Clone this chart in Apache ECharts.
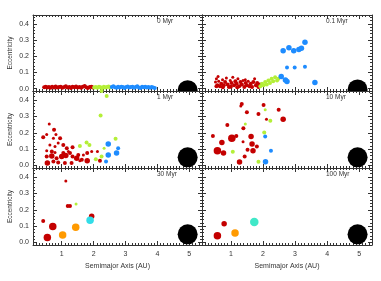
<!DOCTYPE html>
<html><head><meta charset="utf-8">
<script src="https://cdn.jsdelivr.net/npm/echarts@6/dist/echarts.min.js"></script>
<style>html,body{margin:0;padding:0;background:#fff}#c{width:381px;height:281px}</style>
</head><body><div id="c"></div>
<script>
// ---- tick labels / titles ----
const xTicks = [1, 2, 3, 4, 5];
const yTicks = [0.0, 0.1, 0.2, 0.3, 0.4];
const panelTitles = ['0 Myr', '0.1 Myr', '1 Myr', '10 Myr', '30 Myr', '100 Myr'];
const xTitle = 'Semimajor Axis (AU)';
const yTitle = 'Eccentricity';

// ---- data: [semimajor axis, eccentricity, mass class] ----
// 0 Myr
const p0Red = [[0.45,0.008,2],[0.50,0.012,2],[0.55,0.006,2],[0.60,0.010,2],[0.65,0.005,2],[0.70,0.011,2],[0.76,0.007,2],[0.81,0.013,2],[0.86,0.006,2],[0.92,0.009,2],[0.97,0.012,2],[1.02,0.005,2],[1.08,0.010,2],[1.13,0.014,2],[1.18,0.007,2],[1.24,0.009,2],[1.29,0.004,2],[1.34,0.011,2],[1.40,0.008,2],[1.45,0.013,2],[1.50,0.006,2],[1.56,0.010,2],[1.61,0.005,2],[1.66,0.012,2],[1.72,0.016,2],[1.77,0.008,2],[1.82,0.004,2],[1.88,0.009,2],[1.93,0.012,2],[1.98,0.006,2]];
const p0Green = [[2.02,0.007,2],[2.07,0.010,2],[2.12,0.005,2],[2.17,0.012,2],[2.22,0.008,2],[2.27,0.004,2],[2.32,0.011,2],[2.37,0.007,2],[2.42,0.009,2],[2.47,0.013,2],[2.52,0.006,2]];
const p0Blue = [[2.57,0.010,2],[2.62,0.014,2],[2.67,0.008,2],[2.72,0.005,2],[2.77,0.011,2],[2.82,0.007,2],[2.87,0.012,2],[2.92,0.009,2],[2.97,0.004,2],[3.02,0.010,2],[3.07,0.013,2],[3.12,0.006,2],[3.17,0.009,2],[3.22,0.012,2],[3.27,0.005,2],[3.32,0.010,2],[3.37,0.014,2],[3.42,0.007,2],[3.47,0.004,2],[3.52,0.011,2],[3.57,0.008,2],[3.62,0.012,2],[3.67,0.006,2],[3.72,0.009,2],[3.77,0.005,2],[3.82,0.010,2],[3.87,0.007,2],[3.92,0.004,2]];
// 0.1 Myr
const p1Red = [[0.52,0.04,1],[0.55,0.06,1],[0.58,0.02,2],[0.62,0.045,1],[0.66,0.015,2],[0.70,0.03,2],[0.74,0.055,1],[0.78,0.02,2],[0.82,0.04,2],[0.86,0.065,1],[0.90,0.025,2],[0.94,0.01,2],[0.98,0.05,1],[1.02,0.035,2],[1.06,0.07,1],[1.10,0.02,2],[1.14,0.045,2],[1.18,0.03,2],[1.22,0.06,1],[1.26,0.015,2],[1.30,0.04,2],[1.34,0.025,2],[1.38,0.05,1],[1.42,0.01,2],[1.46,0.035,2],[1.50,0.02,2],[1.54,0.045,1],[1.58,0.015,2],[1.62,0.03,2],[1.66,0.01,2],[1.70,0.04,2],[1.74,0.06,1],[1.78,0.02,2],[1.82,0.035,2],[1.86,0.01,2],[1.90,0.025,2],[0.60,0.075,1],[0.55,0.015,2],[0.75,0.008,2],[1.00,0.012,2],[1.20,0.008,2],[1.45,0.055,1]];
const p1Green = [[1.92,0.015,2],[1.97,0.03,2],[2.02,0.02,2],[2.07,0.04,2],[2.12,0.025,2],[2.17,0.05,2],[2.22,0.035,2],[2.27,0.06,2],[2.32,0.045,2],[2.38,0.07,2],[2.44,0.05,2],[2.48,0.06,2]];
const p1Blue = [[2.63,0.234,3],[2.81,0.252,3],[2.96,0.234,3],[3.12,0.242,3],[3.20,0.249,3],[3.31,0.287,3],[2.75,0.13,2],[2.99,0.13,2],[3.31,0.135,2],[2.57,0.074,3],[2.70,0.053,3],[2.75,0.043,3],[3.62,0.037,3]];
// 1 Myr
const p2Red = [[0.61,0.254,1],[0.42,0.173,2],[0.53,0.19,1],[0.76,0.218,2],[0.82,0.19,1],[0.74,0.167,1],[0.95,0.167,2],[1.05,0.126,2],[0.89,0.137,1],[1.16,0.106,2],[1.34,0.112,2],[0.53,0.09,1],[0.69,0.085,2],[0.79,0.079,1],[1.05,0.076,2],[1.21,0.085,1],[0.53,0.055,2],[0.69,0.059,3],[0.84,0.045,2],[1.00,0.055,3],[1.13,0.061,3],[1.34,0.055,2],[1.47,0.045,3],[1.63,0.035,2],[1.80,0.03,3],[1.80,0.076,2],[1.94,0.085,1],[2.12,0.085,1],[2.20,0.03,2],[0.55,0.015,3],[0.74,0.024,2],[0.89,0.018,2],[1.10,0.015,2],[1.31,0.015,2],[1.57,0.03,1],[0.79,0.116,1],[0.63,0.126,1],[1.26,0.076,2],[1.52,0.065,2],[1.68,0.065,1]];
const p2Green = [[2.41,0.425,2],[2.25,0.455,2],[2.22,0.305,2],[2.69,0.163,2],[1.78,0.14,2],[1.57,0.12,2],[1.87,0.126,2],[2.07,0.039,2],[2.25,0.055,2],[2.33,0.106,1]];
const p2Blue = [[2.46,0.132,3],[2.46,0.065,3],[2.39,0.024,2],[2.72,0.076,3],[2.77,0.106,2]];
// 10 Myr
const p3Red = [[1.34,0.376,2],[1.31,0.364,1],[2.02,0.37,2],[2.49,0.34,2],[1.50,0.326,2],[1.86,0.315,2],[2.63,0.283,3],[2.11,0.283,1],[0.89,0.248,2],[1.39,0.228,2],[0.44,0.181,2],[1.03,0.167,4],[1.17,0.181,2],[1.63,0.177,3],[0.72,0.14,3],[1.38,0.145,1],[1.66,0.132,3],[1.81,0.116,2],[0.58,0.091,4],[0.77,0.076,3],[1.52,0.096,2],[1.69,0.091,3],[1.43,0.055,2],[1.27,0.021,3]];
const p3Green = [[2.07,0.34,1],[2.23,0.274,2],[1.45,0.254,1],[2.04,0.201,2],[1.06,0.084,2],[1.86,0.023,2]];
const p3Blue = [[2.07,0.177,2],[2.25,0.09,2],[2.08,0.023,3]];
// 30 Myr
const p4Red = [[1.13,0.375,1],[1.19,0.223,2],[1.26,0.223,2],[0.42,0.131,2],[1.94,0.16,3],[0.72,0.098,4],[0.55,0.031,4]];
const p4Green = [[1.45,0.236,1]];
const p4Orange = [[1.44,0.094,4],[1.03,0.046,4]];
const p4Cyan = [[1.89,0.136,4]];
// 100 Myr
const p5Red = [[0.79,0.115,3],[0.58,0.042,4]];
const p5Orange = [[1.13,0.059,4]];
const p5Cyan = [[1.73,0.125,5]];
// Jupiter per panel
const jupiter = [[4.95,-0.01],[4.95,-0.005],[4.95,0.05],[4.95,0.05],[4.95,0.05],[4.95,0.05]];

// ---- styling ----
const RED='#c40000', GREEN='#b4ef38', BLUE='#1e8cff', ORANGE='#ff9a00', CYAN='#33dde8', TURQ='#40e8c8';
const FRAME='#333', TXT='#333', FONT='Liberation Sans, Arial, sans-serif';
const sizeOf = {1:3, 2:4, 3:5.5, 4:7.5, 5:8.5};
const X_MIN=0.1, X_MAX=5.4, Y_MIN=-0.015, Y_MAX=0.455;
const colLeft=[33,202], colW=[169,170], rowTop=[15,91,168], rowH=[76,77,77];

const xMinor=[]; for(let i=2;i<=53;i++){ if(i%10) xMinor.push(i/10); }
const yMinor=[]; for(let i=1;i<=22;i++){ if(i%5) yMinor.push(Math.round(i*2)/100); }

const panels = [
  [[p0Red,RED],[p0Green,GREEN],[p0Blue,BLUE]],
  [[p1Red,RED],[p1Green,GREEN],[p1Blue,BLUE]],
  [[p2Red,RED],[p2Green,GREEN],[p2Blue,BLUE]],
  [[p3Red,RED],[p3Green,GREEN],[p3Blue,BLUE]],
  [[p4Red,RED],[p4Green,GREEN],[p4Orange,ORANGE],[p4Cyan,CYAN]],
  [[p5Red,RED],[p5Orange,ORANGE],[p5Cyan,TURQ]]
];

const grid=[], xAxis=[], yAxis=[], series=[], graphic=[];
for(let g=0; g<6; g++){
  const row=Math.floor(g/2), col=g%2;
  grid.push({left:colLeft[col], top:rowTop[row], width:colW[col], height:rowH[row], containLabel:false});
  const base = {gridIndex:g, type:'value', splitLine:{show:false}, axisLine:{show:true, onZero:false, lineStyle:{color:FRAME,width:1}}};
  const xi = xAxis.length;
  ['bottom','top'].forEach(pos=>{
    xAxis.push(Object.assign({}, base, {min:X_MIN,max:X_MAX,position:pos,
      axisTick:{show:true,inside:true,length:4,customValues:xTicks,lineStyle:{color:FRAME}},
      axisLabel:{show: pos==='bottom' && row===2, customValues:xTicks, margin:6, fontSize:7, color:TXT, fontFamily:FONT, formatter:v=>String(Math.round(v))},
      name: (pos==='bottom' && row===2) ? xTitle : '', nameLocation:'middle', nameGap:18,
      nameTextStyle:{fontSize:7, color:TXT, fontFamily:FONT}}));
    xAxis.push(Object.assign({}, base, {min:X_MIN,max:X_MAX,position:pos, axisLine:{show:false,onZero:false},
      axisTick:{show:true,inside:true,length:2,customValues:xMinor,lineStyle:{color:FRAME}}, axisLabel:{show:false}}));
  });
  const yi = yAxis.length;
  ['left','right'].forEach(pos=>{
    yAxis.push(Object.assign({}, base, {min:Y_MIN,max:Y_MAX,position:pos,
      axisTick:{show:true,inside:true,length:4,customValues:yTicks,lineStyle:{color:FRAME}},
      axisLabel:{show: pos==='left' && col===0, customValues:yTicks, margin:4, fontSize:7, color:TXT, fontFamily:FONT, formatter:v=>v.toFixed(1)},
      name: (pos==='left' && col===0) ? yTitle : '', nameLocation:'middle', nameGap:19, nameRotate:90,
      nameTextStyle:{fontSize:6.5, color:TXT, fontFamily:FONT}}));
    yAxis.push(Object.assign({}, base, {min:Y_MIN,max:Y_MAX,position:pos, axisLine:{show:false,onZero:false},
      axisTick:{show:true,inside:true,length:2,customValues:yMinor,lineStyle:{color:FRAME}}, axisLabel:{show:false}}));
  });
  panels[g].forEach(([pts,color])=>{
    series.push({type:'scatter', xAxisIndex:xi, yAxisIndex:yi, data:pts,
      symbolSize:(v)=>sizeOf[v[2]], itemStyle:{color:color, opacity:1}, silent:true});
  });
  series.push({type:'custom', xAxisIndex:xi, yAxisIndex:yi, clip:true, data:[jupiter[g]], silent:true,
    renderItem:(params,api)=>{
      const p=api.coord([api.value(0),api.value(1)]);
      return {type:'circle', shape:{cx:p[0],cy:p[1],r:10}, style:{fill:'#000'}};
    }});
  graphic.push({type:'text', x:colLeft[col]+124, y:rowTop[row]+6,
    style:{text:panelTitles[g], fontSize:6.5, fill:TXT, fontFamily:FONT, verticalAlign:'middle', align:'left'}});
}

const chart = echarts.init(document.getElementById('c'), null, {renderer:'canvas'});
chart.setOption({animation:false, backgroundColor:'#fff', grid, xAxis, yAxis, series, graphic});
</script></body></html>
